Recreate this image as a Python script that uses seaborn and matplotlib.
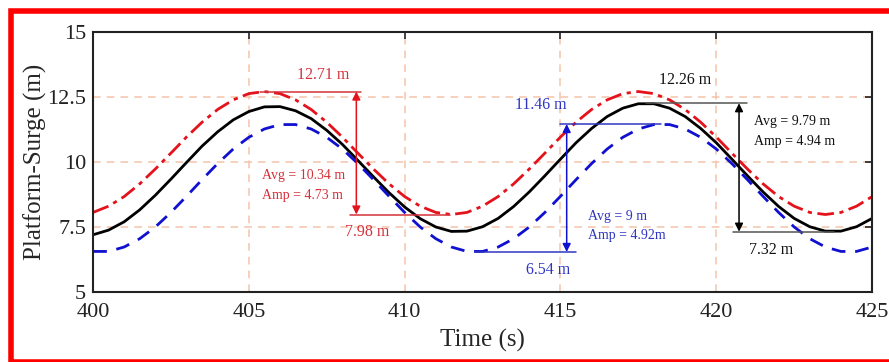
import matplotlib
matplotlib.use("Agg")
import matplotlib.pyplot as plt
import seaborn as sns
import numpy as np
from matplotlib.patches import Rectangle

# time axis (s)
time = [400 + 0.5 * i for i in range(51)]

# platform surge (m)
surge_red = [8.06, 8.30, 8.67, 9.16, 9.73, 10.34, 10.96, 11.53, 12.02, 12.39,
             12.63, 12.71, 12.63, 12.39, 12.02, 11.53, 10.96, 10.34, 9.73, 9.16,
             8.67, 8.30, 8.06, 7.98, 8.06, 8.30, 8.67, 9.16, 9.73, 10.34,
             10.96, 11.53, 12.02, 12.39, 12.63, 12.71, 12.63, 12.39, 12.02, 11.53,
             10.96, 10.34, 9.73, 9.16, 8.67, 8.30, 8.06, 7.98, 8.06, 8.30, 8.67]
surge_black = [7.20, 7.38, 7.70, 8.16, 8.72, 9.34, 9.98, 10.61, 11.16, 11.62,
               11.94, 12.12, 12.13, 11.97, 11.67, 11.22, 10.68, 10.06, 9.43, 8.82,
               8.27, 7.82, 7.50, 7.33, 7.34, 7.51, 7.83, 8.29, 8.85, 9.47,
               10.11, 10.74, 11.29, 11.75, 12.07, 12.24, 12.24, 12.07, 11.75, 11.29,
               10.74, 10.11, 9.47, 8.85, 8.29, 7.83, 7.51, 7.34, 7.34, 7.51, 7.83]
surge_blue = [6.56, 6.56, 6.73, 7.05, 7.50, 8.06, 8.68, 9.32, 9.94, 10.50,
              10.95, 11.27, 11.44, 11.44, 11.27, 10.95, 10.50, 9.94, 9.32, 8.68,
              8.06, 7.50, 7.05, 6.73, 6.56, 6.56, 6.73, 7.05, 7.50, 8.06,
              8.68, 9.32, 9.94, 10.50, 10.95, 11.27, 11.44, 11.44, 11.27, 10.95,
              10.50, 9.94, 9.32, 8.68, 8.06, 7.50, 7.05, 6.73, 6.56, 6.56, 6.73]

# annotation values: max, min, avg, amp
ann_max = [12.71, 11.46, 12.26]
ann_min = [7.98, 6.54, 7.32]
ann_avg = ["10.34 m", "9 m", "9.79 m"]
ann_amp = ["4.73 m", "4.92m", "4.94 m"]

sns.set_style("white")
plt.rcParams['font.family'] = ['Liberation Serif', 'DejaVu Serif']

RED = '#e3121b'
RED_TXT = '#d6313a'
BLUE = '#1010d0'
BLUE_TXT = '#2f35c0'

fig = plt.figure(figsize=(8.89, 3.62), dpi=100)
ax = fig.add_axes([0.1046, 0.1934, 0.981 - 0.1046, 0.9116 - 0.1934])

# grid
for gx in [405, 410, 415, 420]:
    ax.axvline(gx, color='#f2c3ab', lw=1.1, ls=(0, (5, 4)), zorder=0)
for gy in [7.5, 10, 12.5]:
    ax.axhline(gy, color='#f2c3ab', lw=1.1, ls=(0, (5, 4)), zorder=0)

sns.lineplot(x=time, y=surge_red, ax=ax, color=RED, lw=2, linestyle=(0, (6, 2, 1.5, 2)))
sns.lineplot(x=time, y=surge_black, ax=ax, color='black', lw=2)
sns.lineplot(x=time, y=surge_blue, ax=ax, color=BLUE, lw=2, linestyle=(0, (5, 3.5)))

ax.set_xlim(400, 425)
ax.set_ylim(5, 15)
ax.set_xticks([400, 405, 410, 415, 420, 425])
ax.set_yticks([5, 7.5, 10, 12.5, 15])
ax.set_yticklabels(['5', '7.5', '10', '12.5', '15'])
ax.tick_params(direction='in', length=5, width=1.2, labelsize=16, top=True, right=True,
               colors='#222222')
ax.tick_params(axis='x', pad=8)
ax.tick_params(axis='y', pad=5)
for s in ax.spines.values():
    s.set_linewidth(1.5)
    s.set_color('#222222')
ax.set_xlabel('Time (s)', fontsize=18, labelpad=5)
ax.set_ylabel('Platform-Surge (m)', fontsize=18, labelpad=0)


def annotate(x_arrow, top_span, bot_span, vmax, vmin, col, lcol):
    ax.plot(top_span, [vmax, vmax], color=lcol, lw=1.1)
    ax.plot(bot_span, [vmin, vmin], color=lcol, lw=1.1)
    ax.annotate('', xy=(x_arrow, vmin), xytext=(x_arrow, vmax),
                arrowprops=dict(arrowstyle='<|-|>', color=col, lw=1.1,
                                mutation_scale=12, shrinkA=0, shrinkB=0))


# red
annotate(408.45, [405.37, 408.6], [408.26, 411.47], ann_max[0], ann_min[0], RED, RED_TXT)
ax.text(407.39, 13.36, f"{ann_max[0]} m", color=RED_TXT, fontsize=11.5, ha='center', va='center')
ax.text(408.8, 7.29, f"{ann_min[0]} m", color=RED_TXT, fontsize=11.5, ha='center', va='center')
ax.text(405.43, 9.47, f"Avg = {ann_avg[0]}", color=RED_TXT, fontsize=10, ha='left', va='center')
ax.text(405.43, 8.70, f"Amp = {ann_amp[0]}", color=RED_TXT, fontsize=10, ha='left', va='center')

# blue
annotate(415.2, [415.0, 418.22], [412.27, 415.49], ann_max[1], ann_min[1], BLUE, BLUE_TXT)
ax.text(414.36, 12.18, f"{ann_max[1]} m", color=BLUE_TXT, fontsize=11.5, ha='center', va='center')
ax.text(414.6, 5.84, f"{ann_min[1]} m", color=BLUE_TXT, fontsize=11.5, ha='center', va='center')
ax.text(415.87, 7.90, f"Avg = {ann_avg[1]}", color=BLUE_TXT, fontsize=10, ha='left', va='center')
ax.text(415.87, 7.18, f"Amp = {ann_amp[1]}", color=BLUE_TXT, fontsize=10, ha='left', va='center')

# black
annotate(420.73, [417.74, 421.0], [420.53, 423.78], ann_max[2], ann_min[2], 'black', '#555555')
ax.text(419.0, 13.17, f"{ann_max[2]} m", color='#111111', fontsize=11.5, ha='center', va='center')
ax.text(421.75, 6.6, f"{ann_min[2]} m", color='#111111', fontsize=11.5, ha='center', va='center')
ax.text(421.2, 11.57, f"Avg = {ann_avg[2]}", color='#111111', fontsize=10, ha='left', va='center')
ax.text(421.2, 10.80, f"Amp = {ann_amp[2]}", color='#111111', fontsize=10, ha='left', va='center')

# red frame around the figure (runs off the right edge, just shows at the bottom)
fig.patches.append(Rectangle((10.5 / 889, 0.0), 884 / 889, (362 - 10.5) / 362,
                             transform=fig.transFigure, fill=False,
                             edgecolor='#ff0000', lw=4))

fig.savefig('out.png', dpi=100)
